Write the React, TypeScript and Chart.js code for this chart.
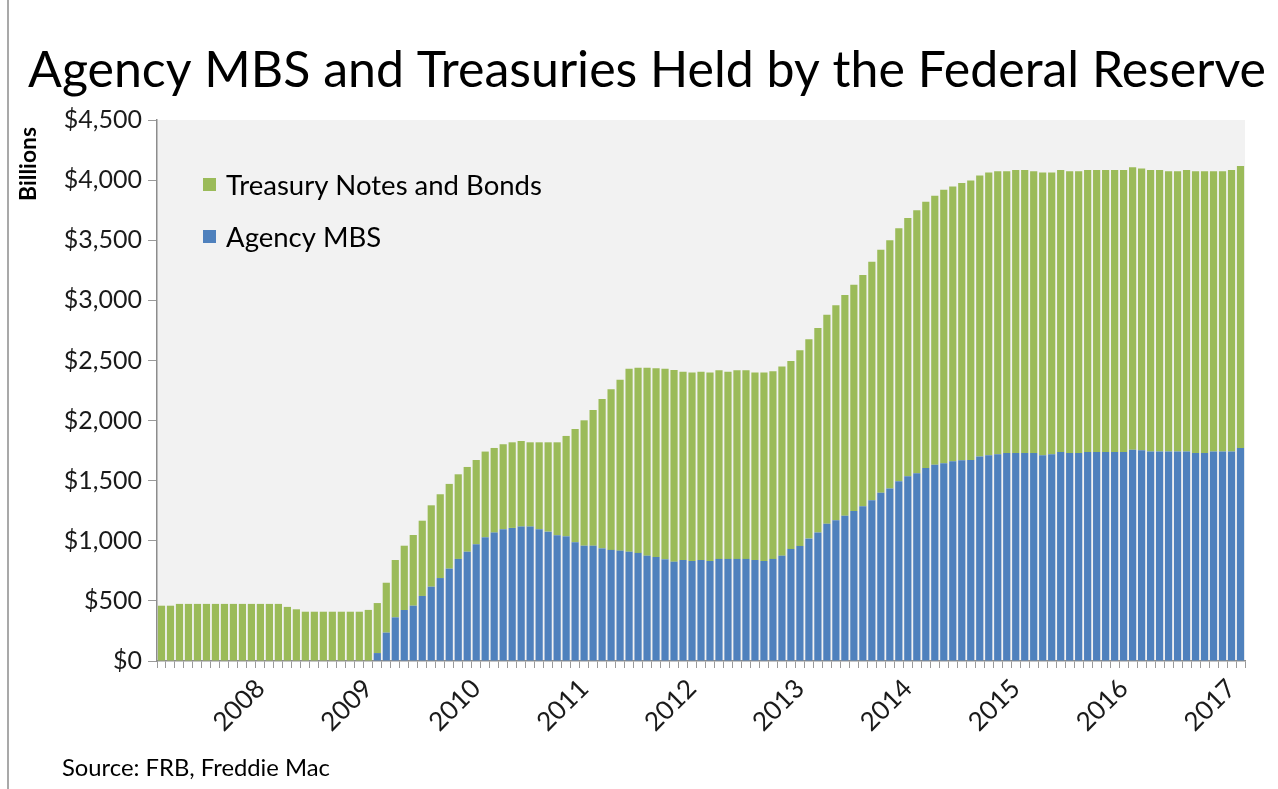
import React, { useEffect, useRef } from "react";
import { Chart, registerables } from "chart.js";

Chart.register(...registerables);

// Monthly categories, Feb 2007 - Feb 2017
const months: string[] = [
  "2007-02", "2007-03", "2007-04", "2007-05", "2007-06", "2007-07", "2007-08", "2007-09", "2007-10", "2007-11", "2007-12",
  "2008-01", "2008-02", "2008-03", "2008-04", "2008-05", "2008-06", "2008-07", "2008-08", "2008-09", "2008-10", "2008-11", "2008-12",
  "2009-01", "2009-02", "2009-03", "2009-04", "2009-05", "2009-06", "2009-07", "2009-08", "2009-09", "2009-10", "2009-11", "2009-12",
  "2010-01", "2010-02", "2010-03", "2010-04", "2010-05", "2010-06", "2010-07", "2010-08", "2010-09", "2010-10", "2010-11", "2010-12",
  "2011-01", "2011-02", "2011-03", "2011-04", "2011-05", "2011-06", "2011-07", "2011-08", "2011-09", "2011-10", "2011-11", "2011-12",
  "2012-01", "2012-02", "2012-03", "2012-04", "2012-05", "2012-06", "2012-07", "2012-08", "2012-09", "2012-10", "2012-11", "2012-12",
  "2013-01", "2013-02", "2013-03", "2013-04", "2013-05", "2013-06", "2013-07", "2013-08", "2013-09", "2013-10", "2013-11", "2013-12",
  "2014-01", "2014-02", "2014-03", "2014-04", "2014-05", "2014-06", "2014-07", "2014-08", "2014-09", "2014-10", "2014-11", "2014-12",
  "2015-01", "2015-02", "2015-03", "2015-04", "2015-05", "2015-06", "2015-07", "2015-08", "2015-09", "2015-10", "2015-11", "2015-12",
  "2016-01", "2016-02", "2016-03", "2016-04", "2016-05", "2016-06", "2016-07", "2016-08", "2016-09", "2016-10", "2016-11", "2016-12",
  "2017-01", "2017-02",
];

// Agency MBS held ($ billions)
const agencyMBS: number[] = [
  0, 0, 0, 0, 0, 0, 0, 0, 0, 0, 0,
  0, 0, 0, 0, 0, 0, 0, 0, 0, 0, 0, 0,
  0, 66, 236, 363, 424, 460, 541, 618, 690, 768, 849, 909,
  971, 1029, 1068, 1096, 1107, 1118, 1118, 1096, 1076, 1046, 1037, 988,
  959, 959, 937, 924, 918, 909, 899, 876, 865, 846, 826, 840,
  832, 840, 832, 849, 849, 849, 849, 840, 832, 849, 876, 932,
  957, 1018, 1068, 1142, 1171, 1209, 1248, 1287, 1337, 1400, 1434, 1495,
  1537, 1562, 1606, 1633, 1645, 1662, 1670, 1672, 1700, 1711, 1720, 1731,
  1731, 1731, 1731, 1711, 1720, 1739, 1731, 1731, 1739, 1739, 1739, 1739,
  1739, 1758, 1753, 1742, 1742, 1742, 1742, 1742, 1731, 1731, 1742, 1742,
  1742, 1772,
];

// Treasury notes and bonds held ($ billions)
const treasuryNotesBonds: number[] = [
  460, 460, 475, 475, 475, 475, 475, 475, 475, 475, 475,
  475, 475, 475, 450, 430, 410, 410, 410, 410, 410, 410, 410,
  425, 416, 415, 477, 535, 588, 626, 677, 697, 705, 704, 705,
  701, 713, 704, 707, 712, 712, 701, 723, 743, 773, 835, 942,
  1043, 1129, 1243, 1336, 1422, 1521, 1541, 1564, 1570, 1584, 1594, 1567,
  1567, 1567, 1567, 1569, 1558, 1569, 1569, 1559, 1567, 1561, 1573, 1564,
  1628, 1658, 1702, 1738, 1789, 1836, 1882, 1923, 1983, 2020, 2066, 2105,
  2148, 2188, 2214, 2237, 2275, 2284, 2307, 2324, 2338, 2352, 2354, 2343,
  2354, 2354, 2343, 2352, 2343, 2346, 2343, 2343, 2346, 2346, 2346, 2346,
  2346, 2349, 2343, 2343, 2343, 2332, 2332, 2343, 2343, 2343, 2332, 2332,
  2343, 2346,
];

const yTicks: number[] = [0, 500, 1000, 1500, 2000, 2500, 3000, 3500, 4000, 4500];
const titleText = "Agency MBS and Treasuries Held by the Federal Reserve";
const sourceText = "Source: FRB, Freddie Mac";
const yAxisTitle = "Billions";
const seriesNames = ["Agency MBS", "Treasury Notes and Bonds"];

const GREEN = "#9BBB59";
const BLUE = "#4F81BD";
const FONT = "Lato, 'Open Sans', sans-serif";

function fitFont(ctx: CanvasRenderingContext2D, text: string, width: number, weight = "normal") {
  ctx.font = `${weight} 100px ${FONT}`;
  const w = ctx.measureText(text).width;
  const size = (100 * width) / w;
  return `${weight} ${size.toFixed(2)}px ${FONT}`;
}

const decorPlugin = {
  id: "decor",
  beforeDraw(chart: any) {
    const { ctx, chartArea } = chart;
    ctx.save();
    ctx.fillStyle = "#ffffff";
    ctx.fillRect(0, 0, chart.width, chart.height);
    ctx.fillStyle = "#F2F2F2";
    ctx.fillRect(chartArea.left, chartArea.top, chartArea.right - chartArea.left, chartArea.bottom - chartArea.top);
    ctx.restore();
  },
  afterDraw(chart: any) {
    const { ctx } = chart;
    ctx.save();
    // frame line at left
    ctx.strokeStyle = "#8c8c8c";
    ctx.lineWidth = 1.5;
    ctx.beginPath();
    ctx.moveTo(8, 0);
    ctx.lineTo(8, chart.height);
    ctx.stroke();

    // title
    ctx.fillStyle = "#000000";
    ctx.textBaseline = "alphabetic";
    ctx.textAlign = "left";
    ctx.font = fitFont(ctx, titleText, 1238);
    ctx.fillText(titleText, 28, 87);

    // legend (inside plot)
    const legendItems = [
      { label: seriesNames[1], color: GREEN, y: 185, w: 316 },
      { label: seriesNames[0], color: BLUE, y: 237, w: 148 },
    ];
    const lf = fitFont(ctx, legendItems[0].label, legendItems[0].w);
    legendItems.forEach((it) => {
      ctx.fillStyle = it.color;
      ctx.fillRect(203, it.y - 7, 13, 13);
      ctx.fillStyle = "#000000";
      ctx.font = lf;
      ctx.textBaseline = "middle";
      ctx.fillText(it.label, 226, it.y + 1);
    });

    // y axis title
    ctx.save();
    ctx.translate(36, 127);
    ctx.rotate(-Math.PI / 2);
    ctx.textAlign = "right";
    ctx.textBaseline = "alphabetic";
    ctx.font = fitFont(ctx, yAxisTitle, 74, "bold");
    ctx.fillStyle = "#000000";
    ctx.fillText(yAxisTitle, 0, 0);
    ctx.restore();

    // source
    ctx.textAlign = "left";
    ctx.textBaseline = "alphabetic";
    ctx.fillStyle = "#000000";
    ctx.font = fitFont(ctx, sourceText, 268);
    ctx.fillText(sourceText, 62, 776);
    ctx.restore();
  },
};

export default function App() {
  const ref = useRef<HTMLCanvasElement | null>(null);

  useEffect(() => {
    document.body.style.margin = "0";
    document.body.style.overflow = "hidden";
    const canvas = ref.current!;
    const chart = new Chart(canvas, {
      type: "bar",
      data: {
        labels: months,
        datasets: [
          {
            label: seriesNames[0],
            data: agencyMBS,
            backgroundColor: BLUE,
            barPercentage: 0.8,
            categoryPercentage: 1.0,
          },
          {
            label: seriesNames[1],
            data: treasuryNotesBonds,
            backgroundColor: GREEN,
            barPercentage: 0.8,
            categoryPercentage: 1.0,
          },
        ],
      },
      options: {
        responsive: false,
        animation: false,
        devicePixelRatio: 1,
        layout: { padding: { top: 120, right: 33, left: 0, bottom: 0 } },
        plugins: {
          legend: { display: false },
          title: { display: false },
          tooltip: { enabled: false },
        },
        scales: {
          x: {
            stacked: true,
            afterFit: (scale: any) => {
              scale.height = 128;
            },
            grid: {
              display: true,
              drawOnChartArea: false,
              drawTicks: true,
              tickLength: 7,
              color: "#9a9a9a",
              offset: true,
            },
            border: { display: true, color: "#8c8c8c", width: 1.5 },
            ticks: {
              autoSkip: false,
              maxRotation: 45,
              minRotation: 45,
              padding: 5,
              color: "#1a1a1a",
              font: { family: FONT, size: 26 },
              callback: (_v: any, i: number) => {
                const m = months[i];
                return m.endsWith("-01") ? m.slice(0, 4) : "";
              },
            },
          },
          y: {
            stacked: true,
            min: 0,
            max: 4500,
            afterFit: (scale: any) => {
              scale.width = 157;
            },
            afterBuildTicks: (scale: any) => {
              scale.ticks = yTicks.map((v) => ({ value: v }));
            },
            grid: {
              display: true,
              drawOnChartArea: false,
              drawTicks: true,
              tickLength: 9,
              color: "#9a9a9a",
            },
            border: { display: true, color: "#8c8c8c", width: 1.5 },
            ticks: {
              padding: 6,
              color: "#1a1a1a",
              font: { family: FONT, size: 25 },
              callback: (v: any) => "$" + Number(v).toLocaleString("en-US"),
            },
          },
        },
      },
      plugins: [decorPlugin],
    });
    return () => chart.destroy();
  }, []);

  return <canvas ref={ref} width={1278} height={789} style={{ display: "block" }} />;
}
